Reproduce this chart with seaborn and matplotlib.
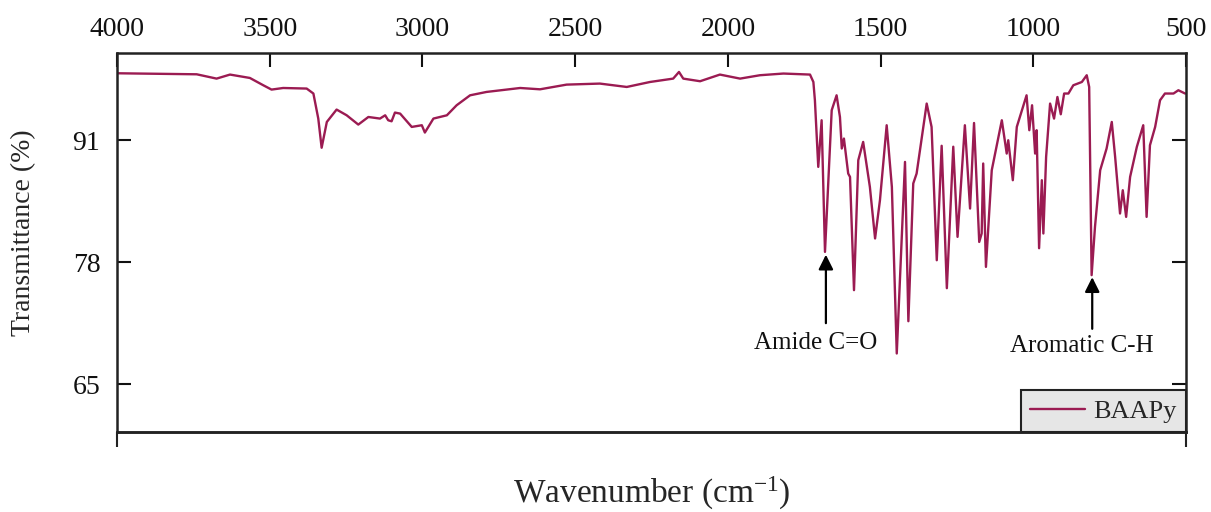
import numpy as np
import pandas as pd
import matplotlib
matplotlib.use("Agg")
import matplotlib.pyplot as plt
import seaborn as sns

# ---- data ----
wavenumber = [4000, 3739, 3674, 3630, 3565, 3521, 3494, 3456, 3379, 3357, 3341, 3330,
              3313, 3281, 3248, 3210, 3177, 3139, 3122, 3112, 3101, 3090, 3073, 3035,
              3002, 2992, 2964, 2920, 2888, 2844, 2790, 2724, 2680, 2615, 2528, 2419,
              2331, 2255, 2179, 2160, 2146, 2091, 2026, 1960, 1895, 1818, 1731, 1720,
              1715, 1704, 1693, 1682, 1660, 1644, 1633, 1627, 1620, 1606, 1600, 1587,
              1573, 1557, 1535, 1518, 1502, 1480, 1463, 1447, 1420, 1409, 1393, 1382,
              1349, 1333, 1316, 1300, 1283, 1262, 1248, 1224, 1207, 1194, 1177, 1169,
              1164, 1155, 1136, 1103, 1087, 1082, 1067, 1054, 1022, 1013, 1004, 994,
              989, 981, 972, 967, 958, 945, 932, 921, 910, 899, 885, 869, 841, 825,
              817, 809, 798, 781, 760, 743, 732, 716, 707, 696, 683, 661, 640, 629,
              618, 601, 585, 569, 541, 525, 503]
transmittance = [98.14, 98.03, 97.57, 98.00, 97.64, 96.86, 96.40, 96.57, 96.51, 95.98, 93.31, 90.20,
                 92.95, 94.27, 93.66, 92.67, 93.48, 93.31, 93.66, 93.13, 93.02, 93.95, 93.84, 92.42,
                 92.60, 91.82, 93.31, 93.66, 94.73, 95.79, 96.15, 96.40, 96.57, 96.43, 96.93, 97.04,
                 96.68, 97.21, 97.57, 98.28, 97.57, 97.29, 98.00, 97.57, 97.93, 98.11, 98.00, 97.21,
                 95.26, 88.16, 93.13, 79.10, 94.20, 95.79, 93.48, 90.12, 91.18, 87.45, 87.09, 75.02,
                 88.87, 90.82, 86.02, 80.53, 84.61, 92.60, 86.02, 68.27, 88.69, 71.71, 86.39, 87.45,
                 94.91, 92.42, 78.21, 90.41, 75.23, 90.31, 80.70, 92.60, 83.72, 92.84, 80.16, 81.06,
                 88.52, 77.50, 87.80, 93.13, 89.58, 91.00, 86.74, 92.42, 95.79, 92.07, 94.73, 89.58,
                 92.07, 79.49, 86.74, 81.06, 89.22, 94.91, 93.31, 95.61, 93.77, 95.98, 95.98, 96.86,
                 97.21, 97.93, 96.68, 76.62, 81.76, 87.80, 90.12, 92.95, 89.22, 83.19, 85.67, 82.83,
                 87.09, 90.29, 92.60, 82.83, 90.47, 92.42, 95.26, 95.98, 95.98, 96.33, 95.98]
series_name = "BAAPy"
x_ticks = [4000, 3500, 3000, 2500, 2000, 1500, 1000, 500]
y_ticks = [65, 78, 91]
annotations = [("Amide C=O", 1679, 78.8, 71.5, 1713, 68.8),
               ("Aromatic C-H", 807, 76.4, 70.9, 840, 68.4)]

df = pd.DataFrame({"Wavenumber": wavenumber, "Transmittance": transmittance,
                   "Sample": series_name})

sns.set_style("white")
plt.rcParams["font.family"] = ["Liberation Serif", "DejaVu Serif"]
plt.rcParams["mathtext.fontset"] = "custom"
plt.rcParams["mathtext.rm"] = "Liberation Serif"
plt.rcParams["mathtext.it"] = "Liberation Serif:italic"

fig = plt.figure(figsize=(12.11, 5.12), dpi=100)
ax = fig.add_axes([117 / 1211, 1 - 432 / 512, 1069 / 1211, 379 / 512])

line_color = "#9b1b52"
sns.lineplot(data=df, x="Wavenumber", y="Transmittance", hue="Sample",
             palette=[line_color], linewidth=1.7, ax=ax, legend=True)

ax.set_xlim(4000, 500)
ax.set_ylim(59.9, 100.3)
ax.set_xticks(x_ticks)
ax.set_yticks(y_ticks)

ax.xaxis.tick_top()
ax.tick_params(axis="x", which="both", top=True, bottom=False, direction="in",
               length=10, width=1.5, pad=8, labelsize=20, colors="#111111")
ax.tick_params(axis="y", which="both", left=True, right=True, direction="in",
               length=10, width=1.5, pad=12, labelsize=20, colors="#111111")

for sp in ax.spines.values():
    sp.set_linewidth(1.8)
    sp.set_color("#222222")

# small outward stubs at the bottom corners
sec = ax.secondary_xaxis("bottom")
sec.set_xticks([4000, 500])
sec.tick_params(direction="out", length=11, width=1.5, labelbottom=False, colors="#222222")
sec.spines["bottom"].set_linewidth(1.8)
sec.spines["bottom"].set_color("#222222")

ax.set_xlabel("Wavenumber (cm$^{-1}$)", fontsize=24)
ax.xaxis.set_label_position("bottom")
ax.xaxis.set_label_coords(0.5, -0.112)
ax.set_ylabel("Transmittance (%)", fontsize=20)
ax.yaxis.set_label_coords(-0.076, 0.527)

for text, xt, ytip, ytail, xtext, ytext in annotations:
    ax.annotate("", xy=(xt, ytip), xytext=(xt, ytail),
                arrowprops=dict(arrowstyle="-|>", color="black", lw=1.6,
                                mutation_scale=22, shrinkA=0, shrinkB=0))
    ax.text(xtext, ytext, text, ha="center", va="baseline", fontsize=18, color="#111111")

leg = ax.legend(loc="lower right", borderaxespad=0, fontsize=19, frameon=True,
                fancybox=False, handlelength=2.1, handletextpad=0.3, borderpad=0.35,
                title=None)
leg.get_frame().set_facecolor("#e6e6e6")
leg.get_frame().set_edgecolor("#222222")
leg.get_frame().set_linewidth(1.5)
leg.get_frame().set_alpha(1)

fig.savefig("out.png", dpi=100)
